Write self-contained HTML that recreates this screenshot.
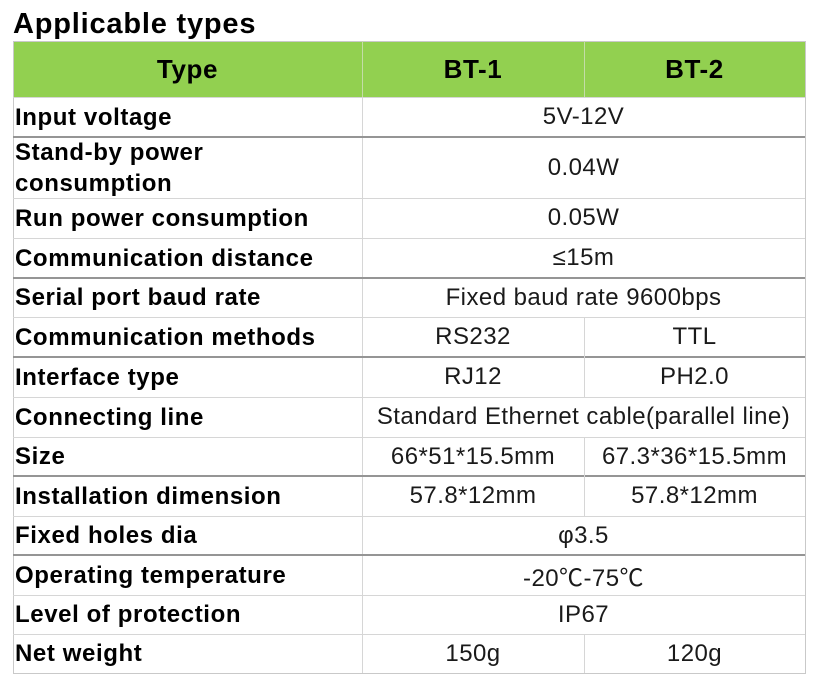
<!DOCTYPE html>
<html><head><meta charset="utf-8">
<style>
html,body{margin:0;padding:0;background:#fff;}
body{width:824px;height:682px;position:relative;overflow:hidden;font-family:"Liberation Sans","Noto Sans CJK SC",sans-serif;}
.t{position:absolute;left:13px;top:7px;font-size:29px;font-weight:bold;letter-spacing:0.8px;color:#000;line-height:34px;}
.hdr{position:absolute;left:13px;top:41px;width:792px;height:56px;background:#92D050;}
.c{position:absolute;display:flex;align-items:center;white-space:nowrap;}
.lab{left:15px;font-size:24px;font-weight:bold;letter-spacing:0.6px;color:#000;line-height:31px;}
.val{justify-content:center;font-size:24px;letter-spacing:0.45px;color:#1a1a1a;}
.h{justify-content:center;font-size:26px;font-weight:bold;letter-spacing:0.6px;color:#000;top:41px;height:56px;}
.l{position:absolute;background:#d6d6d6;}
.d{position:absolute;background:#959595;}
</style></head><body>
<div class="t">Applicable types</div>
<div class="hdr"></div>

<!-- header text -->
<div class="c h" style="left:13px;width:349px;">Type</div>
<div class="c h" style="left:362px;width:222px;">BT-1</div>
<div class="c h" style="left:584px;width:221px;">BT-2</div>

<!-- borders -->
<div class="l" style="left:13px;top:41px;width:792px;height:1px;background:#c9c9c9"></div>
<div class="l" style="left:13px;top:41px;width:1px;height:633px;background:#c9c9c9"></div>
<div class="l" style="left:805px;top:41px;width:1px;height:633px;background:#c9c9c9"></div>
<div class="l" style="left:13px;top:673px;width:793px;height:1px;background:#c9c9c9"></div>
<div class="l" style="left:362px;top:41px;width:1px;height:56px;background:#c4dca8"></div>
<div class="l" style="left:584px;top:41px;width:1px;height:56px;background:#c4dca8"></div>
<div class="l" style="left:362px;top:97px;width:1px;height:576px;"></div>

<!-- horizontal lines -->
<div class="l" style="left:13px;top:97px;width:792px;height:1px;"></div>
<div class="d" style="left:13px;top:136px;width:792px;height:2px;"></div>
<div class="l" style="left:13px;top:198px;width:792px;height:1px;"></div>
<div class="l" style="left:13px;top:238px;width:792px;height:1px;"></div>
<div class="d" style="left:13px;top:277px;width:792px;height:2px;"></div>
<div class="l" style="left:13px;top:317px;width:792px;height:1px;"></div>
<div class="d" style="left:13px;top:356px;width:792px;height:2px;"></div>
<div class="l" style="left:13px;top:397px;width:792px;height:1px;"></div>
<div class="l" style="left:13px;top:437px;width:792px;height:1px;"></div>
<div class="d" style="left:13px;top:475px;width:792px;height:2px;"></div>
<div class="l" style="left:13px;top:516px;width:792px;height:1px;"></div>
<div class="d" style="left:13px;top:554px;width:792px;height:2px;"></div>
<div class="l" style="left:13px;top:595px;width:792px;height:1px;"></div>
<div class="l" style="left:13px;top:634px;width:792px;height:1px;"></div>

<!-- vertical splits at 584 -->
<div class="l" style="left:584px;top:317px;width:1px;height:80px;"></div>
<div class="l" style="left:584px;top:437px;width:1px;height:79px;"></div>
<div class="l" style="left:584px;top:634px;width:1px;height:39px;"></div>

<!-- labels -->
<div class="c lab" style="top:97px;height:40px;">Input voltage</div>
<div class="c lab" style="top:137px;height:61px;">Stand-by power<br>consumption</div>
<div class="c lab" style="top:198px;height:40px;">Run power consumption</div>
<div class="c lab" style="top:238px;height:40px;">Communication distance</div>
<div class="c lab" style="top:278px;height:39px;">Serial port baud rate</div>
<div class="c lab" style="top:317px;height:40px;">Communication methods</div>
<div class="c lab" style="top:357px;height:40px;">Interface type</div>
<div class="c lab" style="top:397px;height:40px;">Connecting line</div>
<div class="c lab" style="top:437px;height:39px;">Size</div>
<div class="c lab" style="top:476px;height:40px;">Installation dimension</div>
<div class="c lab" style="top:516px;height:39px;">Fixed holes dia</div>
<div class="c lab" style="top:555px;height:40px;">Operating temperature</div>
<div class="c lab" style="top:595px;height:39px;">Level of protection</div>
<div class="c lab" style="top:634px;height:39px;">Net weight</div>

<!-- values -->
<div class="c val" style="left:362px;width:443px;top:97px;height:40px;">5V-12V</div>
<div class="c val" style="left:362px;width:443px;top:137px;height:61px;">0.04W</div>
<div class="c val" style="left:362px;width:443px;top:198px;height:40px;">0.05W</div>
<div class="c val" style="left:362px;width:443px;top:238px;height:40px;">≤15m</div>
<div class="c val" style="left:362px;width:443px;top:278px;height:39px;">Fixed baud rate 9600bps</div>
<div class="c val" style="left:362px;width:222px;top:317px;height:40px;">RS232</div>
<div class="c val" style="left:584px;width:221px;top:317px;height:40px;">TTL</div>
<div class="c val" style="left:362px;width:222px;top:357px;height:40px;">RJ12</div>
<div class="c val" style="left:584px;width:221px;top:357px;height:40px;">PH2.0</div>
<div class="c val" style="left:362px;width:443px;top:397px;height:40px;">Standard Ethernet cable(parallel line)</div>
<div class="c val" style="left:362px;width:222px;top:437px;height:39px;">66*51*15.5mm</div>
<div class="c val" style="left:584px;width:221px;top:437px;height:39px;">67.3*36*15.5mm</div>
<div class="c val" style="left:362px;width:222px;top:476px;height:40px;">57.8*12mm</div>
<div class="c val" style="left:584px;width:221px;top:476px;height:40px;">57.8*12mm</div>
<div class="c val" style="left:362px;width:443px;top:516px;height:39px;">φ3.5</div>
<div class="c val" style="left:362px;width:443px;top:555px;height:40px;">-20℃-75℃</div>
<div class="c val" style="left:362px;width:443px;top:595px;height:39px;">IP67</div>
<div class="c val" style="left:362px;width:222px;top:634px;height:39px;">150g</div>
<div class="c val" style="left:584px;width:221px;top:634px;height:39px;">120g</div>
</body></html>
